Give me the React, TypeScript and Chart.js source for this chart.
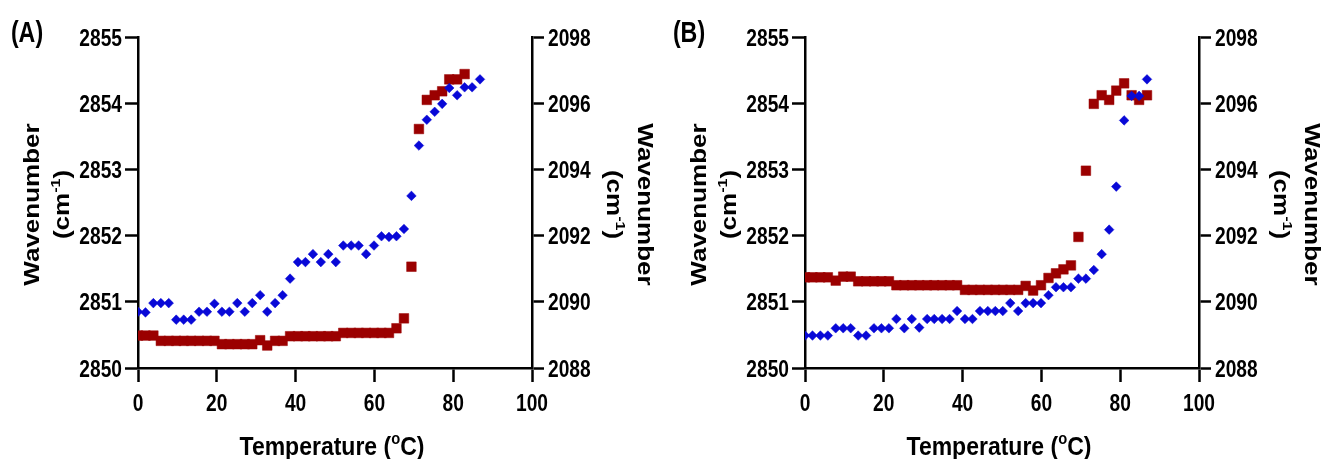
import React, { useEffect, useRef } from "react";
import { Chart, registerables } from "chart.js";

Chart.register(...registerables);

// Temperatures (°C)
const temperature = [
  0, 1.9, 3.9, 5.8, 7.8, 9.7, 11.6, 13.5, 15.5, 17.5, 19.4, 21.3, 23.2, 25.2, 27.1, 29.0,
  31.0, 32.8, 34.8, 36.7, 38.6, 40.6, 42.5, 44.4, 46.4, 48.3, 50.2, 52.1, 54.1, 56.0, 57.9,
  59.9, 61.8, 63.7, 65.6, 67.5, 69.4, 71.3, 73.3, 75.3, 77.2, 79.0, 81.0, 82.9, 84.8, 86.8,
];

// Panel A — blue diamonds (left axis, cm-1)
const blueA = [
  2850.85, 2850.84, 2850.98, 2850.98, 2850.98, 2850.73, 2850.73, 2850.73, 2850.85, 2850.85,
  2850.97, 2850.85, 2850.85, 2850.98, 2850.85, 2850.98, 2851.10, 2850.85, 2850.98, 2851.10,
  2851.35, 2851.60, 2851.60, 2851.72, 2851.60, 2851.72, 2851.60, 2851.85, 2851.85, 2851.85,
  2851.72, 2851.85, 2851.99, 2851.98, 2851.99, 2852.10, 2852.60, 2853.36, 2853.75, 2853.87,
  2853.99, 2854.23, 2854.12, 2854.24, 2854.24, 2854.36,
];
// Panel A — red squares (right axis, cm-1)
const redA = [
  2088.98, 2088.98, 2088.98, 2088.82, 2088.82, 2088.82, 2088.82, 2088.82, 2088.82, 2088.82,
  2088.82, 2088.72, 2088.72, 2088.72, 2088.72, 2088.72, 2088.84, 2088.68, 2088.82, 2088.82,
  2088.96, 2088.96, 2088.96, 2088.96, 2088.96, 2088.96, 2088.96, 2089.06, 2089.06, 2089.06,
  2089.06, 2089.06, 2089.06, 2089.06, 2089.2, 2089.5, 2091.06, 2095.22, 2096.1, 2096.24,
  2096.36, 2096.72, 2096.72, 2096.88,
];
// Panel B — blue diamonds (left axis)
const blueB = [
  2850.49, 2850.49, 2850.49, 2850.49, 2850.6, 2850.6, 2850.6, 2850.49, 2850.49, 2850.6,
  2850.6, 2850.6, 2850.74, 2850.6, 2850.74, 2850.61, 2850.74, 2850.74, 2850.74, 2850.74,
  2850.86, 2850.74, 2850.74, 2850.86, 2850.86, 2850.86, 2850.86, 2850.98, 2850.86, 2850.98,
  2850.98, 2850.98, 2851.1, 2851.22, 2851.22, 2851.22, 2851.35, 2851.35, 2851.48, 2851.72,
  2852.09, 2852.74, 2853.74, 2854.11, 2854.11, 2854.36,
];
// Panel B — red squares (right axis)
const redB = [
  2090.74, 2090.74, 2090.74, 2090.74, 2090.64, 2090.76, 2090.76, 2090.62, 2090.62, 2090.62,
  2090.62, 2090.62, 2090.5, 2090.5, 2090.5, 2090.5, 2090.5, 2090.5, 2090.5, 2090.5,
  2090.5, 2090.36, 2090.36, 2090.36, 2090.36, 2090.36, 2090.36, 2090.36, 2090.36, 2090.48,
  2090.34, 2090.5, 2090.72, 2090.86, 2090.98, 2091.1, 2091.96, 2093.96, 2095.98, 2096.24,
  2096.1, 2096.38, 2096.6, 2096.24, 2096.1, 2096.24,
];

const xTicks = [0, 20, 40, 60, 80, 100];
const leftTicks = [2850, 2851, 2852, 2853, 2854, 2855];
const rightTicks = [2088, 2090, 2092, 2094, 2096, 2098];

const BLUE = "rgb(8,8,215)";
const RED = "rgb(155,0,0)";
const FONT = "'Liberation Sans', Arial, sans-serif";
const TICK_SX = 0.8;

type Seg = { t: string; sup?: boolean };

function drawRich(
  ctx: CanvasRenderingContext2D,
  segs: Seg[],
  cx: number,
  cy: number,
  rot: number,
  size: number,
  sx: number,
  align: "center" | "left" | "right" = "center"
) {
  ctx.save();
  ctx.translate(cx, cy);
  ctx.scale(sx, 1);
  ctx.rotate(rot);
  const supSize = Math.round(size * 0.62);
  let total = 0;
  const widths = segs.map((s) => {
    ctx.font = `bold ${s.sup ? supSize : size}px ${FONT}`;
    const w = ctx.measureText(s.t).width;
    total += w;
    return w;
  });
  let x = align === "center" ? -total / 2 : align === "right" ? -total : 0;
  ctx.textBaseline = "alphabetic";
  ctx.textAlign = "left";
  ctx.fillStyle = "#000";
  const base = size * 0.358;
  segs.forEach((s, i) => {
    ctx.font = `bold ${s.sup ? supSize : size}px ${FONT}`;
    ctx.fillText(s.t, x, s.sup ? base - size * 0.42 : base);
    x += widths[i];
  });
  ctx.restore();
}

const PANEL_W = 658;
const PANEL_H = 459;
const AREA_LEFT = 138;
const AREA_RIGHT = 532;
const AREA_TOP = 37;
const AREA_BOTTOM = 368;

function Panel({ label, labelX, blue, red, left }: { label: string; labelX: number; blue: number[]; red: number[]; left: number }) {
  const ref = useRef<HTMLCanvasElement | null>(null);
  useEffect(() => {
    if (!ref.current) return;
    const texts = {
      id: "texts" + label,
      afterDraw(chart: any) {
        const ctx = chart.ctx as CanvasRenderingContext2D;
        const sx = chart.scales.x;
        const sy = chart.scales.y;
        const sy2 = chart.scales.y2;
        // tick labels
        xTicks.forEach((v) => drawRich(ctx, [{ t: String(v) }], sx.getPixelForValue(v), 402, 0, 24, TICK_SX));
        leftTicks.forEach((v) => drawRich(ctx, [{ t: String(v) }], AREA_LEFT - 16, sy.getPixelForValue(v), 0, 24, TICK_SX, "right"));
        rightTicks.forEach((v) => drawRich(ctx, [{ t: String(v) }], AREA_RIGHT + 16, sy2.getPixelForValue(v), 0, 24, TICK_SX, "left"));
        // titles
        const cy = (AREA_TOP + AREA_BOTTOM) / 2 + 2;
        drawRich(ctx, [{ t: label }], labelX, 32, 0, 29, 0.8);
        drawRich(ctx, [{ t: "Wavenumber" }], 31, cy, -Math.PI / 2, 26, 0.85);
        drawRich(ctx, [{ t: "(cm" }, { t: "-1", sup: true }, { t: ")" }], 61, cy, -Math.PI / 2, 26, 0.85);
        drawRich(ctx, [{ t: "Wavenumber" }], 646, cy, Math.PI / 2, 26, 0.85);
        drawRich(ctx, [{ t: "(cm" }, { t: "-1", sup: true }, { t: ")" }], 615, cy, Math.PI / 2, 26, 0.85);
        drawRich(ctx, [{ t: "Temperature (" }, { t: "o", sup: true }, { t: "C)" }], (AREA_LEFT + AREA_RIGHT) / 2 - 3, 446, 0, 25, 0.92);
      },
    };
    const axisCommon = {
      grid: { display: true, drawOnChartArea: false, drawTicks: true, tickLength: 13, tickWidth: 2.5, tickColor: "#000" },
      border: { display: true, color: "#000", width: 2.5 },
    };
    const chart = new Chart(ref.current, {
      type: "scatter",
      data: {
        datasets: [
          {
            label: "blue",
            data: temperature.slice(0, blue.length).map((t, i) => ({ x: t, y: blue[i] })),
            yAxisID: "y",
            pointStyle: "rectRot",
            pointRadius: 4.8,
            backgroundColor: BLUE,
            borderColor: BLUE,
            borderWidth: 0.5,
          },
          {
            label: "red",
            data: temperature.slice(0, red.length).map((t, i) => ({ x: t, y: red[i] })),
            yAxisID: "y2",
            pointStyle: "rect",
            pointRadius: 6.8,
            backgroundColor: RED,
            borderColor: RED,
            borderWidth: 0.5,
          },
        ],
      },
      options: {
        animation: false,
        responsive: true,
        maintainAspectRatio: false,
        layout: { padding: { top: AREA_TOP, left: 0, right: 0, bottom: 0 } },
        plugins: { legend: { display: false }, tooltip: { enabled: false } },
        scales: {
          x: {
            type: "linear",
            min: xTicks[0],
            max: xTicks[xTicks.length - 1],
            afterBuildTicks: (s: any) => { s.ticks = xTicks.map((v) => ({ value: v })); },
            ticks: { display: false },
            ...axisCommon,
            grid: { ...axisCommon.grid, tickLength: 14 },
            afterFit: (s: any) => { s.height = PANEL_H - AREA_BOTTOM; },
          },
          y: {
            type: "linear",
            position: "left",
            min: leftTicks[0],
            max: leftTicks[leftTicks.length - 1],
            afterBuildTicks: (s: any) => { s.ticks = leftTicks.map((v) => ({ value: v })); },
            ticks: { display: false },
            ...axisCommon,
            afterFit: (s: any) => { s.width = AREA_LEFT; },
          },
          y2: {
            type: "linear",
            position: "right",
            min: rightTicks[0],
            max: rightTicks[rightTicks.length - 1],
            afterBuildTicks: (s: any) => { s.ticks = rightTicks.map((v) => ({ value: v })); },
            ticks: { display: false },
            ...axisCommon,
            grid: { ...axisCommon.grid, tickLength: 12 },
            afterFit: (s: any) => { s.width = PANEL_W - AREA_RIGHT; },
          },
        },
      } as any,
      plugins: [texts],
    });
    return () => chart.destroy();
  }, [label, labelX, blue, red]);
  return (
    <div style={{ position: "absolute", left, top: 0, width: PANEL_W, height: PANEL_H }}>
      <canvas ref={ref} />
    </div>
  );
}

export default function App() {
  return (
    <div style={{ position: "absolute", left: 0, top: 0, width: 1325, height: 459, background: "#fff", overflow: "hidden" }}>
      <Panel label="(A)" labelX={27} blue={blueA} red={redA} left={0} />
      <Panel label="(B)" labelX={22} blue={blueB} red={redB} left={667} />
    </div>
  );
}
